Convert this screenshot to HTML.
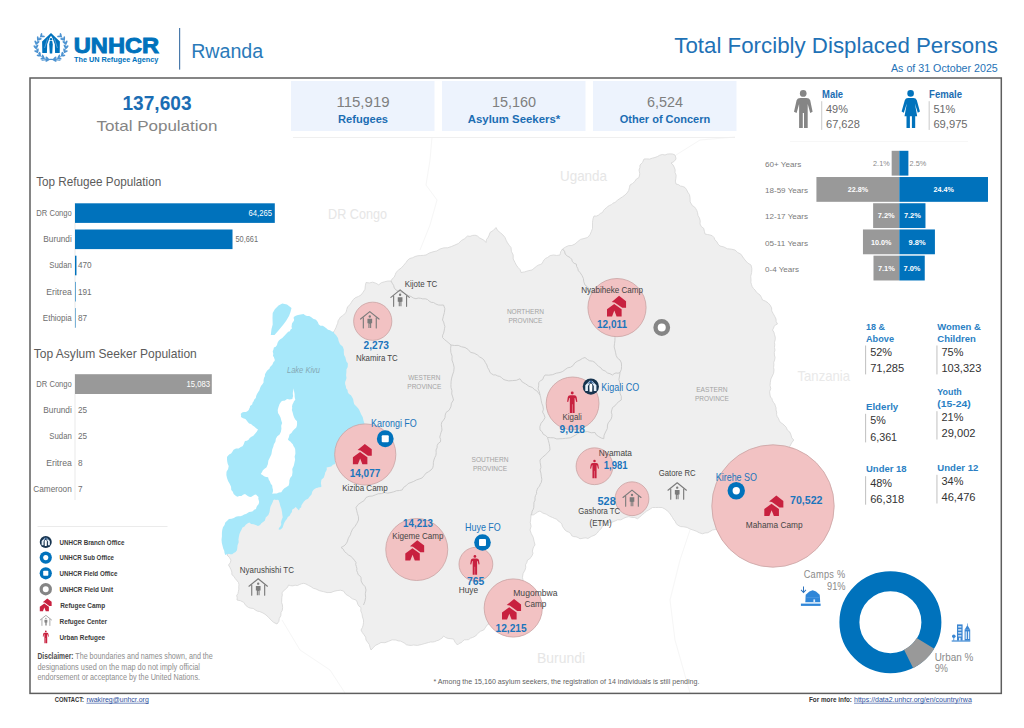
<!DOCTYPE html>
<html lang="en"><head><meta charset="utf-8"><title>UNHCR Rwanda - Total Forcibly Displaced Persons</title>
<style>html,body{margin:0;padding:0;background:#fff}body{width:1024px;height:728px;overflow:hidden}svg{display:block}text{font-family:'Liberation Sans', sans-serif}</style>
</head><body>
<svg width="1024" height="728" viewBox="0 0 1024 728">
<rect width="1024" height="728" fill="#fff"/>
<g id="map">
<g fill="none" stroke="#f6f6f6" stroke-width="1"><path d="M432,137 L430,160 L426,185 L437,200 L430,225 L420,250"/><path d="M676,155 L700,140 L735,137"/><path d="M282,620 L300,650 L330,670 L345,693"/><path d="M690,530 L680,560 L670,600 L675,640 L690,693"/></g>
<polygon points="330,340 330.62,336.52 332.43,333.48 334.45,330.63 336,327.5 336.73,325.3 337.75,323.23 338.04,320.88 339.33,318.89 340.62,316.9 342.68,315.71 344.28,314.05 346,312.5 346.72,309.57 347.66,306.7 349.99,304.71 351.54,302.07 353.24,299.55 355.58,297.61 358.38,296.48 361,295 363.09,292.24 364.96,289.33 365.3,285.89 366,282.5 369.34,282.96 372.62,282.18 375.8,283.18 378.69,284.85 381.29,282.74 384.49,281.79 387.71,281.07 391,281 392.28,278.81 394.2,277.16 395.2,274.87 396,272.5 398.53,270.0 401.36,267.86 403.75,265.24 406,262.5 407.63,260.17 409.89,258.44 412.61,257.71 415.15,256.48 417.8,255.75 420.55,255.54 423.29,255.39 426,255 429.3,253.05 432.93,251.83 436.68,250.96 440,249 443.77,247.88 447.71,247.78 451.41,246.53 455,245 458.59,243.41 461.31,240.58 464.68,238.66 467.5,236 470.07,236.35 472.5,235.45 475.05,235.23 477.5,236 479.49,237.83 481.89,239.07 484.26,240.41 486,242.5 486.38,239.76 487.97,237.49 489.2,235.08 490,232.5 493.34,230.41 496,227.5 497.65,230.51 500.31,232.67 502.89,234.86 505,237.5 506.11,240.21 507.49,242.8 509.15,245.22 511,247.5 511.43,251.42 513.17,254.95 513.21,258.94 515,262.5 516.32,265.11 518.07,267.46 520.11,269.65 521,272.5 524.7,271.89 528.26,270.73 532.04,269.98 535,267.5 536.59,266.22 538.32,265.13 540.27,264.51 542.09,263.55 543.03,261.68 544.04,259.85 545.57,258.38 547.5,257.5 550.21,255.57 553.5,255.01 556.75,255.46 560,255 560.67,251.76 562.5,249 565.37,247.17 568.42,245.68 571.87,245.48 575,244 577.71,241.62 580.54,239.39 584.04,238.53 587.5,237.5 589.85,234.94 591.25,231.75 592.51,228.49 592.5,225 592.51,222.7 592.73,220.41 593.2,218.16 594,216 596.41,216.1 598.6,215.1 600.31,213.45 602.5,212.5 603.4,210.64 604.78,209.1 606.33,207.76 607.91,206.45 609.62,205.32 611.55,204.64 613.0,203.13 615,202.5 617.29,200.36 619.84,198.54 622.48,196.86 625,195 627.06,192.98 628.68,190.59 629.36,187.8 630,185 632.52,183.48 634.73,181.53 636.4,179.02 639,177.5 639.78,173.75 639,170 639.86,167.57 640,165 642.58,162.39 644,159 646.81,158.89 649.62,159.1 652.27,158.16 655,157.5 657.45,156.53 659.74,155.22 662.34,154.51 665,155 667.42,154.06 670.0,153.88 672.6,154.0 675,155 675.67,156.96 676,159 673.97,161.58 671,163 673.0,164.82 674.23,167.23 675.16,169.79 675,172.5 676.16,175.24 675.91,178.21 675.39,181.11 676,184 678.38,184.61 680.4,186.02 682.8,186.46 685,187.5 686.62,189.8 687.9,192.3 689.46,194.69 690,197.5 690.11,199.7 690.15,201.9 691.29,203.78 692.39,205.68 694.33,206.77 695.68,208.54 696.75,210.45 697.5,212.5 698.0,215.47 699.45,218.1 700.24,221.0 700,224 701.36,226.63 703.74,228.38 704.33,231.2 705,234 707.4,234.51 709.82,234.92 712.23,235.7 714,237.5 714.94,240.01 716.94,241.79 718.07,244.18 720,246 723.82,246.93 727.3,248.77 731.19,249.12 735,250 737.64,252.48 740.87,254.13 742.89,257.1 745,260 747.64,262.94 751,265 751.87,268.7 751.66,272.5 750.72,276.2 751,280 750.89,282.32 751.51,284.55 752.22,286.76 753.61,288.63 755.26,290.22 756.41,292.21 758.19,293.62 760,295 761.44,297.41 762.5,300 765.41,301.09 768.0,302.81 770.11,305.11 771.58,307.85 771.72,310.95 773.23,313.65 774.69,316.29 776,319 776.18,321.67 777.5,324 775.59,324.8 774.24,326.37 773.5,328.25 772.5,330 773.9,332.2 774.55,334.72 775.27,337.22 775.2,339.82 774.46,342.32 774.77,344.9 774.43,347.47 775,350 774.32,352.45 774.41,354.99 775.05,357.48 774.61,360.01 773.72,362.42 773.89,364.98 773.58,367.5 774,370 773.64,373.22 772.25,376.14 770.85,379.05 770.37,382.24 770.05,385.47 770.74,388.64 769.59,391.73 770,395 770.53,397.01 771.89,398.58 772.43,400.55 773.41,402.34 774.74,403.96 775.36,405.95 776.05,407.92 776,410 776.68,412.13 776.55,414.36 777.15,416.51 778.42,418.34 779.24,420.44 780.38,422.37 782.29,423.54 784,425 786.17,427.22 787.37,430.09 789.81,432.09 791,435 791.76,437.84 793.75,440 791.64,442.85 790,446 788.13,448.76 786.07,451.38 784.82,454.54 784.83,457.93 783.53,461.0 781.39,463.56 781.11,466.87 780,470 778.25,474.24 776.89,478.61 774.72,482.68 771.61,486.08 769.55,490.21 766.1,493.28 762.33,495.99 760,500 757.66,503.27 755.62,506.73 752.6,509.5 750.95,513.26 747.67,515.74 745.72,519.36 742.86,522.18 740,525 736.68,526.39 733.09,526.05 729.67,526.77 726.21,527.27 723.22,529.37 719.58,529.76 716.02,529.33 712.5,530 710.18,531.4 707.82,532.73 705.1,532.93 702.5,533.75 699.29,532.75 696.32,531.19 693.17,530.06 690,529 687.07,527.45 683.81,526.82 680.47,526.56 677.5,525 676.06,523.24 675.12,521.17 673.6,519.49 672.5,517.5 670.93,515.1 669.35,512.72 667.23,510.79 665,509 662.1,507.55 658.85,507.41 655.68,507.55 652.5,507.5 650.53,508.78 648.58,510.08 646.49,511.19 644.67,512.69 642.89,514.22 641.16,515.81 639.35,517.3 637.5,518.75 634.79,517.53 631.82,517.42 628.92,516.68 625.99,517.29 623.32,518.48 620.73,519.83 617.73,519.75 615,521 611.79,522.33 608.31,522.4 605.76,524.77 602.5,526 601.21,528.71 598.89,530.61 597.24,533.07 595,535 591.3,536.46 587.92,538.54 585.98,537.89 583.94,538.06 580,538.75 578.1,537.59 576.03,536.77 573.77,536.65 571.71,535.72 570.74,533.62 568.92,532.19 566.8,531.38 565,530 563.69,528.14 562.41,526.27 561.82,524.0 560.22,522.28 558.23,521.05 556.77,519.22 554.6,518.44 552.5,517.5 549.25,516.11 546.28,514.2 542.89,513.1 540,511 537.71,511.96 535.69,513.42 533.54,514.8 531,515 530.76,518.76 530.29,522.49 531.09,526.28 530,530 531.35,533.74 533.16,537.28 534.06,541.15 535,545 533.67,546.8 532.92,548.92 532.39,551.14 532.95,553.35 532.17,555.42 530.91,557.24 529.54,559.03 527.5,560 526.8,562.53 525.52,564.82 525.76,567.46 525,570 523.11,573.46 522.44,577.35 523.26,581.18 523.11,585.1 522.17,588.94 522.91,592.83 521.32,596.36 520,600 516.77,605.3 511.55,608.66 505.71,610.33 500.31,613.11 497.31,618.38 492.36,621.88 487.13,624.96 483.75,630 480.54,631.22 477.86,633.36 475.63,636.01 472.5,637.5 470.39,638.19 468.67,639.6 466.49,639.78 464.31,639.86 462.68,641.24 461.12,642.71 459.06,643.45 457.5,645 455.14,642.24 453.5,639 450.86,638.69 448.21,638.46 445.69,637.55 443.5,636 442.35,637.85 440.5,638.99 438.72,640.18 436.66,640.77 434.72,641.6 432.66,642.03 430.55,641.98 428.5,642.5 424.82,643.53 421.14,644.57 417.36,645.42 413.5,645 411.16,645.41 408.8,645.22 406.42,644.75 404.55,643.2 402.54,642.09 400.47,641.08 398.15,640.9 396,640 392.11,639.83 388.52,641.35 384.88,642.69 381,642.5 378.24,644.06 375.38,645.42 373.2,647.72 371,650 370.03,647.33 369.37,644.57 367.69,642.28 366,640 365.65,637.13 363.99,634.76 362.3,632.5 361,630 362.31,627.72 363.11,625.22 363.49,622.62 363.5,620 362.47,616.97 361.94,613.81 360.74,610.76 361,607.5 359.03,606.22 357.78,604.23 357.15,602.0 356,600 352.27,598.74 349.18,596.29 345.77,594.26 343.5,591 340.34,590.21 337.12,590.64 333.98,591.3 331,592.5 327.09,592.57 323.3,591.6 319.51,590.69 316,589 313.26,588.25 310.95,586.61 308.44,585.37 306,584 303.77,583.32 301.47,583.75 299.37,584.61 297.31,585.58 295.05,585.19 292.87,585.88 290.64,585.66 288.5,585 287.53,587.38 285.53,588.99 283.87,590.85 282,592.5 282.29,595.01 281.81,597.5 281.71,600.0 281.63,602.51 282.43,604.99 282.6,607.59 282.32,610.22 281,612.5 280.85,615.63 279.3,618.35 278.85,621.46 277,624 273.75,622.44 271.04,620.06 268.63,617.42 266,615 264.06,613.58 261.91,612.49 259.69,611.55 257.31,611.12 255.21,609.9 253.26,608.44 250.84,608.19 248.5,607.5 245.63,605.34 243.7,602.3 240.48,600.76 237,600 237.23,597.72 236.67,595.49 237.96,593.58 238.4,591.31 238.84,589.13 238.74,586.91 238.98,584.69 238.5,582.5 236.87,580.52 235.23,578.55 233.88,576.33 231.86,574.69 231.84,572.06 230.95,569.58 229.83,567.24 228.5,565 230.26,562.76 231,560 229.24,557.31 227,555 229.25,552.7 231,550 231.25,547.11 232.8,544.65 233.96,542.02 236,540 236.3,537.88 235.87,535.78 236.7,533.84 237.42,531.86 238.32,529.99 238.97,528.02 239.67,526.06 240,524 242.1,521.84 244.98,520.97 247.72,519.87 250,518 253.0,518.39 256.0,518.77 259.01,518.44 262,518 262.59,514.8 264.5,512.17 265.63,509.18 266,506 267.68,503.06 270.45,501.11 273.0,498.97 276,497.5 278.91,495.25 281.18,492.36 284.84,491.48 287.66,489.0 289.82,486.1 292.31,483.49 294.63,480.72 297,478 298.88,473.53 300.21,468.86 300.87,464.05 300.81,459.19 298.92,454.56 298.8,449.57 299.29,444.64 301,440 303.0,436.31 304.73,432.49 306.48,428.53 309.9,425.89 309.75,421.58 310.63,417.36 313.14,413.88 315,410 317.1,407.63 319.67,405.76 321.61,403.27 323.5,400.75 325.03,398.01 326.65,395.32 327.8,392.33 330,390 331.14,386.17 330.36,382.26 332.54,378.94 333.07,375.0 331.28,371.48 329.65,367.89 330.48,363.97 330,360 330.24,357.42 331.08,354.97 331.38,352.38 332.43,350.0 332.0,347.36 332.37,344.72 331.28,342.31" fill="#efefef" stroke="#d6d6d6" stroke-width="0.8" stroke-linejoin="round"/>
<polygon points="293.8,317 295.74,315.67 298,315 299.36,314.68 300.76,314.57 302.15,314.37 303.5,314 305.17,315.13 307,316 309.13,315.98 311,317 313.24,318.84 316.01,319.66 317.76,321.93 318.8,324.6 320.57,325.74 322.67,325.73 324.36,326.84 326,328 326.99,328.81 327.96,329.64 329.15,330.12 330.4,330.4 331.97,331.39 333.68,332.11 334.52,333.81 336,335 336.98,336.51 338,338 338.71,341.22 340.06,344.22 342.63,346.42 343.8,349.6 343.8,352.29 344.09,354.97 345.34,357.37 346,360 346.56,361.83 347.83,363.26 347.8,365.13 347.7,367 346.42,369.56 346.38,372.42 346.08,375.22 346.5,378 345.94,380.0 345.14,381.91 345.1,384.01 345.8,386 346.15,388.2 347.53,389.95 347.8,392.14 349,394 350.93,395.26 352.16,397.21 353.19,399.24 353.5,401.5 353.86,402.79 354.12,404.1 354.99,405.12 356,406 357.16,407.31 358.34,408.61 359.28,410.1 360,411.7 361.24,414.6 362.77,417.35 363.48,420.42 364.5,423.4 364.29,425.14 364.45,426.88 364.82,428.64 366,430 360.35,431.48 356.4,435.79 352.73,440.07 350,445 346.56,448.34 344.81,452.81 340.18,454.32 337,458 336.13,459.36 335.37,460.78 335.08,462.38 335.2,464 332.95,464.85 331.2,466.5 328.88,466.9 326.6,467.5 326.85,469.31 326.19,471.01 325.2,472.52 324.9,474.3 323.85,477.5 321.42,479.85 320.87,483.13 321.5,486.4 320.32,487.14 318.94,487.34 317.66,487.83 316.3,488 313.83,489.44 312.2,491.8 311.52,494.62 309.5,496.7 308.09,498.78 305.82,499.86 303.97,501.47 302.6,503.5 301.46,505.15 301.15,507.13 299.6,508.45 299,510.4 297.36,508.69 295.7,507 294.07,508.52 292.13,509.64 291.89,511.91 290.6,513.8 289.66,515.84 287.79,517.09 286.92,519.11 285.4,520.7 284.27,522.85 283.44,525.12 282.65,527.46 281,529.3 279.75,529.64 278.5,529.3 279.33,527.6 280.51,526.13 281.27,524.33 281,522.4 281.68,519.8 282.74,517.32 282.31,514.67 282,512 281.42,508.92 280.32,505.98 279.58,502.94 278.5,500 277.23,499.86 275.95,499.91 274.66,499.62 273.4,500 272.63,502.21 271.68,504.34 270.55,506.41 270,508.7 269.55,512.0 268.34,515.11 265.77,517.4 264.8,520.7 263.05,521.93 261.37,523.26 260.07,525.07 258,525.9 255.82,525.03 253.56,524.37 251.15,524.0 249.3,522.4 247.42,523.44 245.72,524.76 244.48,526.6 242.5,527.6 241.5,529.71 240.42,531.77 239.47,533.91 239,536.2 238.46,539.22 238.68,542.28 237.57,545.14 237.3,548.2 236.95,550.29 235.61,551.93 233.79,552.88 232.2,554.2 230.38,554.19 228.64,553.64 226.99,554.36 225.3,555 224.54,552.9 224.24,550.68 223.3,548.65 222.7,546.5 221.84,543.12 221.52,539.64 221.91,536.18 221.9,532.7 222.24,529.99 222.98,527.35 224.54,525.06 225.3,522.4 227.21,520.77 228.98,518.98 231.51,518.84 233.9,518 235.84,516.81 238.06,516.31 240.34,516.36 242.5,515.6 244.12,514.53 246,514 247.54,512.94 249.15,512.01 251.02,511.87 252.8,511.3 254.13,509.77 256,509 256.43,507.36 257.18,505.84 258.37,504.6 259,503 259.14,501.47 258.64,500.01 258.27,498.52 258.5,497 257.13,495.87 256,494.5 254.58,494.71 253.39,495.52 252.22,496.3 251,497 249.26,496.86 247.75,495.99 246.39,494.97 245,494 243.01,494.7 241.4,496.06 239.29,495.96 237.3,496.7 235.3,495.55 233.66,493.92 232.84,491.74 231.3,490 231.05,486.76 229.66,483.82 228.06,481.03 227,478 226.37,474.93 226.52,471.81 228.12,469.1 228.7,466 227.76,463.88 227.23,461.62 227.0,459.32 227,457 228.17,455.62 229.48,454.37 231.14,453.53 232.2,452 233.59,449.74 235.98,448.61 238.6,448.45 240.8,447 242.56,446.15 243.58,444.48 244.22,442.71 245,441 246.92,440.86 248.54,439.81 249.54,438.2 251,437 253.35,435.79 255.05,433.77 256.73,431.78 258,429.5 256.09,428.32 254.53,426.71 252.64,425.52 251,424 249.13,423.4 247.79,421.96 246.67,420.42 245.4,419 243.07,418.28 241,417 241.13,415.47 240.7,414 242.08,412.55 244,412 245.97,411.95 247.7,411 248.72,410.0 249.14,408.63 249.88,407.42 250,406 251.19,405.14 252.29,404.17 252.51,402.66 253.5,401.5 254.31,399.53 255.8,398.01 256.16,395.93 257,394 258.22,392.12 259.39,390.2 260.09,388.06 261,386 262.4,384.29 263.55,382.4 263.57,380.18 264,378 264.9,376.2 264.97,374.18 265.96,372.48 267,370.8 268.11,369.66 269.41,368.74 269.96,367.23 271,366 272.16,364.95 272.85,363.54 273.47,362.1 274.6,361 274.75,359.63 274.24,358.36 273.84,357.07 273,356 273.29,353.72 272.7,351.5 273.45,349.6 273.89,347.61 275.73,346.64 277,345 277.56,342.77 278.7,340.78 280.31,339.14 282.3,338 283.44,336.71 284.69,335.54 285.82,334.25 287,333 288.16,331.65 289.87,331.16 290.58,329.55 292,328.5 291.51,326.85 291.77,325.14 291.98,323.41 293,322 293.81,320.92 294.11,319.61 293.63,318.34" fill="#a7e8fa"/>
<polygon points="282.3,303.5 287,304.5 291.5,308 290.5,312 289,316 286,321 283,325 278,331 274.5,335 270.8,335 271.5,329 272.7,324.6 272.5,318 272.7,313 275,309 278.5,305.4" fill="#a7e8fa"/>
<polygon points="293.7,388.2 294.01,391.12 294.6,394 294.67,396.93 295.3,399.8 294.0,401.17 293.26,402.91 292.46,404.59 292,406.4 292.24,408.1 291.84,409.77 292.34,411.38 292.8,413 293.35,415.28 294.17,417.47 295.29,419.56 297,421.2 297.05,422.88 297.06,424.57 296.74,426.23 296.1,427.8 294.37,429.37 292.74,431.04 291.45,433.04 289.5,434.4 288.98,436.99 287.9,439.4 289.05,440.74 290.57,441.63 291.54,443.08 292.8,444.3 293.46,445.97 294.5,447.43 295.15,449.11 295.3,450.9 295.4,453.84 294.63,456.68 295.14,459.6 294.5,462.5 293.76,465.83 292.27,468.91 292.52,472.32 292,475.7 290.35,477.82 289.39,480.33 289.27,482.99 288.7,485.6 286.52,486.88 284.39,488.22 282.7,490.1 281.3,492.2 278.95,492.48 276.84,493.54 274.51,493.49 272.2,493.8 272.91,491.81 272.97,489.7 272.42,487.68 272.2,485.6 270.79,483.73 269.92,481.56 268.71,479.56 268.1,477.3 266.06,476.95 264.11,476.29 262.45,475.07 260.7,474 261.93,472.14 262.89,470.13 264.56,468.65 266.4,467.4 267.83,464.13 268.4,460.61 269.88,457.39 271.4,454.2 271.83,451.68 272.29,449.16 273.29,446.8 273.9,444.3 275.4,441.76 275.87,438.84 277.31,436.26 279.6,434.4 280.9,431.71 281.42,428.77 281.19,425.77 282.1,422.9 281.22,420.34 280.62,417.71 279.38,415.31 278,413 277.7,409.89 278.51,406.88 279.56,403.96 281.3,401.4 282.79,400.87 284.37,400.72 285.77,399.99 287,399 289.7,399.46 292.4,399 292.67,397.5 293.13,396.04 292.88,394.53 292.8,393 293.27,390.6" fill="#fff"/>
<polyline points="391,281 392.24,283.26 393.61,285.44 394.3,287.98 396,290 398.47,291.17 401.03,292.12 403.73,292.75 406.08,294.2 408.48,295.52 411.03,296.51 413.34,298.01 416,298.75 418.24,298.04 420.58,298.3 422.83,298.91 425.15,298.78 427.42,299.44 429.14,301.06 431.14,302.33 433.5,302.5 435.75,303.92 438.2,304.96 440.85,305.14 443.5,305 444.88,308.69 444.34,312.59 443.37,316.28 442.5,320 443.63,321.99 444.2,324.21 444.9,326.44 444.5,328.75 444.11,330.96 443.58,333.14 442.65,335.22 442.5,337.5 444.47,339.55 446.71,341.29 448.86,343.14 451,345" fill="none" stroke="#c9c9c9" stroke-width="0.9" stroke-linejoin="round"/>
<polyline points="451,345 450.6,348.76 450.86,352.53 452.1,356.16 451.95,359.99 453.28,363.64 454.13,367.43 453.76,371.31 452.5,375 451.65,378.07 451.12,381.21 450.95,384.39 450.98,387.58 451.93,390.67 451.72,393.9 452.71,396.92 453.5,400 451.45,403.18 450.85,406.91 449.07,410.26 446,412.5 445.23,415.08 444.98,417.76 443.59,420.06 441.84,422.09 441.29,424.69 441.68,427.32 441.99,430.0 441,432.5 440.36,434.8 439.74,437.11 440.62,439.38 440.5,441.82 438.45,443.2 437.21,445.34 437.07,447.79 436,450 436.21,452.63 435.91,455.25 434.75,457.61 433.9,460.1 433.34,462.67 433.32,465.3 432.71,467.92 431,470 428.52,471.76 425.88,473.25 424.07,475.69 422.07,477.96 419.26,478.99 416.42,479.95 413.79,481.39 411,482.5 408.2,483.51 406.17,485.7 403.67,487.33 402.22,489.94 399.39,490.55 396.5,490.74 393.81,491.82 391,492.5 387.79,493.17 384.57,492.55 381.49,493.59 378.25,493.76 375.25,494.9 372.26,496.07 369.01,496.28 366,497.5 364.11,500.61 361.0,502.5 358.08,504.58 356,507.5 356.71,510.61 357.48,513.7 358.45,516.78 358.5,520 356.93,523.3 354.99,526.39 352.56,529.16 351,532.5 350.43,534.76 349.16,536.72 348.14,538.79 347.55,541.03 346.53,543.19 345.05,545.05 343.12,546.44 341,547.5 343.21,549.1 344.48,551.52 346.53,553.22 348.5,555 350.84,556.35 352.82,558.18 354.44,560.32 356,562.5 355.71,564.57 356.39,566.55 356.9,568.55 356.71,570.6 357.54,572.51 358.09,574.52 359.79,575.77 361,577.5 361.14,580.97 362.69,584.07 365.11,586.61 366,590 365.29,593.8 365.65,597.65 364.88,601.41 363.5,605" fill="none" stroke="#c9c9c9" stroke-width="0.9" stroke-linejoin="round"/>
<polyline points="451,345 454.56,345.53 458.16,345.37 461.48,346.76 465,347.5 468.18,349.49 470.57,352.39 474.22,353.21 477.5,355 479.54,356.89 481.97,358.24 484.08,360.09 485.36,362.6 486.85,364.93 487.6,367.59 489.06,369.92 490,372.5 491.69,373.8 493.51,374.91 495.71,374.92 497.63,375.98 499.74,376.41 501.55,377.56 503.04,379.11 505,380 508.75,380.89 512.6,380.58 516.46,380.29 520,378.75 522.24,382.0 525.69,383.92 528.82,386.23 532.5,387.5 534.31,389.52 536.72,390.78 538.37,392.88 540,395" fill="none" stroke="#c9c9c9" stroke-width="0.9" stroke-linejoin="round"/>
<polyline points="540,395 539.37,391.84 538.1,388.88 538.68,385.72 538.75,382.5 540.56,380.75 542.73,379.47 543.58,377.09 545,375 548.84,375.15 552.65,374.66 556.21,373.2 560,372.5 562.79,371.41 565.16,369.57 567.65,367.85 570.6,367.21 573.14,365.51 574.78,362.93 577.28,361.27 580,360 582.34,358.44 585,357.5 587.19,359.3 589.6,360.79 592.46,361.15 595,362.5 596.66,364.58 598.65,366.35 600.89,367.84 602.5,370 605.18,370.97 607.3,372.89 609.99,373.72 612.5,375 614.08,373.7 615.98,372.94 618.04,373.22 620,372.5 619.57,376.03 618.91,379.53 619.92,382.94 621.31,386.22 620.3,389.59 619.95,393.1 621.3,396.42 621.25,400 618.85,401.62 616.7,403.55 614.93,405.87 612.5,407.5 611.87,409.79 611.27,412.08 611.93,414.38 611.84,416.78 611.11,419.01 609.77,420.94 608.32,422.79 607.5,425 607.27,428.63 605.62,431.87 604.12,435.16 603.75,438.75 601.11,437.94 598.71,436.56 596.36,434.99 595,432.5 591.16,432.78 587.5,431.56 583.74,431.98 580,432.5 577.55,433.61 575.36,435.17 572.99,436.41 570.66,437.74 568.0,438.08 565.34,438.37 562.68,438.65 560,438.75 556.79,438.94 553.78,437.81 550.64,437.7 547.5,437.5 545.68,435.48 543.24,434.26 542.11,431.76 540,430 539.91,426.49 541.09,423.19 543.35,420.55 545,417.5 544.06,414.66 542.54,412.09 543.41,409.17 542.92,406.16 541.86,403.47 541.24,400.64 540.72,397.8 540,395" fill="none" stroke="#c9c9c9" stroke-width="0.9" stroke-linejoin="round"/>
<polyline points="562.5,249 564.52,251.23 565.22,254.16 567.41,256.12 570,257.5 571.68,259.26 572.33,261.61 574.08,263.25 576.33,264.11 576.64,266.43 577.77,268.48 578.36,270.78 580,272.5 581.92,275.31 583.35,278.41 583.82,281.79 585,285 586.9,286.31 588.36,288.1 589.25,290.25 590.86,291.93 591.16,294.25 592.14,296.37 593.83,297.98 595,300 596.87,304.05 597.55,308.46 598.97,312.64 600.19,316.88 603.97,319.36 606.37,323.19 609.07,326.69 612,330 612.82,331.85 613.77,333.64 613.95,335.71 615,337.5 614.92,340.64 614.53,343.75 614.17,346.92 615,350 615.62,352.82 616.21,355.64 617.6,358.26 620,360 621.36,362.98 621.56,366.25 621.31,369.51 620,372.5" fill="none" stroke="#c9c9c9" stroke-width="0.9" stroke-linejoin="round"/>
<polyline points="547.5,437.5 548.38,440.57 549.2,443.66 549.74,446.81 550,450 547.69,452.68 545.14,455.14 542.37,457.36 540,460 540.14,462.52 540.63,465.0 540.95,467.58 540,470 540.9,473.04 541.27,476.19 541.85,479.35 541.25,482.5 540.13,484.25 539.57,486.25 537.98,487.64 537.18,489.6 536.47,491.59 536.6,493.69 535.5,495.47 535,497.5 535.08,500.11 533.94,502.45 533.9,504.98 533.75,507.5 533.13,509.42 532.13,511.16 531.84,513.16 531,515" fill="none" stroke="#c9c9c9" stroke-width="0.9" stroke-linejoin="round"/>
<text x="328" y="219" font-size="14.5" fill="#e6e6e6" textLength="59" lengthAdjust="spacingAndGlyphs">DR Congo</text>
<text x="560" y="181" font-size="14.5" fill="#e6e6e6" textLength="47" lengthAdjust="spacingAndGlyphs">Uganda</text>
<text x="797.5" y="381" font-size="14.5" fill="#e9e9e9" textLength="52.5" lengthAdjust="spacingAndGlyphs">Tanzania</text>
<text x="537" y="663" font-size="14.5" fill="#e6e6e6" textLength="48" lengthAdjust="spacingAndGlyphs">Burundi</text>
<text x="424.3" y="379.6" font-size="8" fill="#a3a3a3" text-anchor="middle" textLength="32" lengthAdjust="spacingAndGlyphs">WESTERN</text>
<text x="424.3" y="389.0" font-size="8" fill="#a3a3a3" text-anchor="middle" textLength="34" lengthAdjust="spacingAndGlyphs">PROVINCE</text>
<text x="525.4" y="314" font-size="8" fill="#a3a3a3" text-anchor="middle" textLength="37" lengthAdjust="spacingAndGlyphs">NORTHERN</text>
<text x="525.4" y="323.4" font-size="8" fill="#a3a3a3" text-anchor="middle" textLength="34" lengthAdjust="spacingAndGlyphs">PROVINCE</text>
<text x="490" y="461.6" font-size="8" fill="#a3a3a3" text-anchor="middle" textLength="37" lengthAdjust="spacingAndGlyphs">SOUTHERN</text>
<text x="490" y="471.0" font-size="8" fill="#a3a3a3" text-anchor="middle" textLength="34" lengthAdjust="spacingAndGlyphs">PROVINCE</text>
<text x="711.9" y="391.6" font-size="8" fill="#a3a3a3" text-anchor="middle" textLength="31.5" lengthAdjust="spacingAndGlyphs">EASTERN</text>
<text x="711.9" y="401.0" font-size="8" fill="#a3a3a3" text-anchor="middle" textLength="34" lengthAdjust="spacingAndGlyphs">PROVINCE</text>
<text x="287" y="373.3" font-size="8.2" fill="#85a9b5" textLength="33" lengthAdjust="spacingAndGlyphs" font-style="italic">Lake Kivu</text>
<circle cx="372.75" cy="321.25" r="19.1" fill="#f2c2c3" stroke="#c9a3a3" stroke-width="0.8"/>
<circle cx="617" cy="307.6" r="29.1" fill="#f2c2c3" stroke="#c9a3a3" stroke-width="0.8"/>
<circle cx="572.6" cy="403.4" r="26.4" fill="#f2c2c3" stroke="#c9a3a3" stroke-width="0.8"/>
<circle cx="365.25" cy="454.5" r="30.6" fill="#f2c2c3" stroke="#c9a3a3" stroke-width="0.8"/>
<circle cx="594.5" cy="466.25" r="18.4" fill="#f2c2c3" stroke="#c9a3a3" stroke-width="0.8"/>
<circle cx="632" cy="498.75" r="16.9" fill="#f2c2c3" stroke="#c9a3a3" stroke-width="0.8"/>
<circle cx="773" cy="506" r="61.2" fill="#f2c2c3" stroke="#c9a3a3" stroke-width="0.8"/>
<circle cx="416.75" cy="549.5" r="31" fill="#f2c2c3" stroke="#c9a3a3" stroke-width="0.8"/>
<circle cx="475.9" cy="564.2" r="16.9" fill="#f2c2c3" stroke="#c9a3a3" stroke-width="0.8"/>
<circle cx="513.25" cy="608" r="29.1" fill="#f2c2c3" stroke="#c9a3a3" stroke-width="0.8"/>
<g transform="translate(390.3,289.3) scale(0.98)" fill="none" stroke="#7b7b7b" stroke-width="1.15" stroke-linecap="round" stroke-linejoin="round"><path d="M0.6,8.2 L10,0.6 L19.4,8.2"/><path d="M3.4,7 L3.4,17.4 M16.6,7 L16.6,17.4"/><circle cx="10" cy="5.6" r="1.2" fill="#7b7b7b" stroke="none"/><path d="M7.6,8 L12.4,8 L12.4,12.6 L11.4,12.6 L11.4,17.4 L10.3,17.4 L10.3,13 L9.7,13 L9.7,17.4 L8.6,17.4 L8.6,12.6 L7.6,12.6 Z" fill="#7b7b7b" stroke="none"/></g>
<text x="404.75" y="287.4" font-size="9" fill="#454545" textLength="32.5" lengthAdjust="spacingAndGlyphs">Kijote TC</text>
<g transform="translate(360,311) scale(0.98)" fill="none" stroke="#7b7b7b" stroke-width="1.15" stroke-linecap="round" stroke-linejoin="round"><path d="M0.6,8.2 L10,0.6 L19.4,8.2"/><path d="M3.4,7 L3.4,17.4 M16.6,7 L16.6,17.4"/><circle cx="10" cy="5.6" r="1.2" fill="#7b7b7b" stroke="none"/><path d="M7.6,8 L12.4,8 L12.4,12.6 L11.4,12.6 L11.4,17.4 L10.3,17.4 L10.3,13 L9.7,13 L9.7,17.4 L8.6,17.4 L8.6,12.6 L7.6,12.6 Z" fill="#7b7b7b" stroke="none"/></g>
<text x="363.5" y="348.9" font-size="10.9" fill="#1b75bc" font-weight="bold" textLength="25.5" lengthAdjust="spacingAndGlyphs">2,273</text>
<text x="356" y="360.6" font-size="9" fill="#454545" textLength="41.8" lengthAdjust="spacingAndGlyphs">Nkamira TC</text>
<text x="581.2" y="292.6" font-size="9" fill="#454545" textLength="61.8" lengthAdjust="spacingAndGlyphs">Nyabiheke Camp</text>
<g transform="translate(607,295.8) scale(1.03)" fill="#c8213f"><path d="M11.7,0 L18.5,5.3 L18.5,11.7 L14.8,11.7 L7.4,6.4 L4.6,5.9 Z"/><path d="M0,20 L0,13 L7,7.9 L14.2,13 L14.2,20 L9.3,20 L7.1,14.2 L4.9,20 Z"/></g>
<text x="597" y="328.3" font-size="10.9" fill="#1b75bc" font-weight="bold" textLength="30" lengthAdjust="spacingAndGlyphs">12,011</text>
<circle cx="661.75" cy="327.5" r="6.216" fill="#fff" stroke="#858585" stroke-width="4.368"/>
<circle cx="590.85" cy="386.6" r="8.1" fill="#17344f"/>
<g transform="translate(590.85,386.6) scale(1.0125)"><path d="M-5.5,4.4 L-5.5,-1.4 L-0.9,-6 L-0.9,-3.6 L-2.9,-0.6 L-2.9,4.4 Z" fill="#e8f1fa"/><path d="M5.5,4.4 L5.5,-1.4 L0.9,-6 L0.9,-3.6 L2.9,-0.6 L2.9,4.4 Z" fill="#e8f1fa"/><path d="M-1.3,5.2 L-1.5,-0.6 Q-1.3,-3 0,-3 Q1.3,-3 1.5,-0.6 L1.3,5.2 Z" fill="#fff"/><path d="M-3.6,-2.6 L0,-6.2 L3.6,-2.6 L1.6,-3.2 L0,-4.6 L-1.6,-3.2 Z" fill="#3c6ca6"/></g>
<text x="601.2" y="391.3" font-size="11" fill="#1b75bc" textLength="38" lengthAdjust="spacingAndGlyphs">Kigali CO</text>
<g transform="translate(567.1,391.6) scale(1.09)" fill="#c8213f"><circle cx="4.7" cy="1.35" r="1.35"/><path d="M2.8,3.4 L6.6,3.4 Q8.5,3.4 8.8,5.2 L9.4,9.2 L8.4,9.5 L7.4,5.8 L6.9,5.8 L6.9,19.6 L4.9,19.6 L4.9,11.6 L4.5,11.6 L4.5,19.6 L2.5,19.6 L2.5,5.8 L2,5.8 L1,9.5 L0,9.2 L0.6,5.2 Q0.9,3.4 2.8,3.4 Z"/></g>
<text x="562.5" y="420.2" font-size="9" fill="#454545" textLength="19.3" lengthAdjust="spacingAndGlyphs">Kigali</text>
<text x="559.5" y="432.6" font-size="10.9" fill="#1b75bc" font-weight="bold" textLength="25.5" lengthAdjust="spacingAndGlyphs">9,018</text>
<text x="598.75" y="455.6" font-size="9" fill="#454545" textLength="33.2" lengthAdjust="spacingAndGlyphs">Nyamata</text>
<g transform="translate(590.1,459.8) scale(0.94)" fill="#c8213f"><circle cx="4.7" cy="1.35" r="1.35"/><path d="M2.8,3.4 L6.6,3.4 Q8.5,3.4 8.8,5.2 L9.4,9.2 L8.4,9.5 L7.4,5.8 L6.9,5.8 L6.9,19.6 L4.9,19.6 L4.9,11.6 L4.5,11.6 L4.5,19.6 L2.5,19.6 L2.5,5.8 L2,5.8 L1,9.5 L0,9.2 L0.6,5.2 Q0.9,3.4 2.8,3.4 Z"/></g>
<text x="603.75" y="469.1" font-size="10.9" fill="#1b75bc" font-weight="bold" textLength="23.8" lengthAdjust="spacingAndGlyphs">1,981</text>
<g transform="translate(622.4,489.6) scale(0.96)" fill="none" stroke="#7b7b7b" stroke-width="1.15" stroke-linecap="round" stroke-linejoin="round"><path d="M0.6,8.2 L10,0.6 L19.4,8.2"/><path d="M3.4,7 L3.4,17.4 M16.6,7 L16.6,17.4"/><circle cx="10" cy="5.6" r="1.2" fill="#7b7b7b" stroke="none"/><path d="M7.6,8 L12.4,8 L12.4,12.6 L11.4,12.6 L11.4,17.4 L10.3,17.4 L10.3,13 L9.7,13 L9.7,17.4 L8.6,17.4 L8.6,12.6 L7.6,12.6 Z" fill="#7b7b7b" stroke="none"/></g>
<text x="597.5" y="504.8" font-size="10.9" fill="#1b75bc" font-weight="bold" textLength="18.2" lengthAdjust="spacingAndGlyphs">528</text>
<text x="578.25" y="514.4" font-size="9" fill="#454545" textLength="41.8" lengthAdjust="spacingAndGlyphs">Gashora TC</text>
<text x="589.5" y="526.4" font-size="9" fill="#454545" textLength="22.2" lengthAdjust="spacingAndGlyphs">(ETM)</text>
<text x="658.75" y="476.4" font-size="9" fill="#454545" textLength="36.8" lengthAdjust="spacingAndGlyphs">Gatore RC</text>
<g transform="translate(667.4,482.2) scale(0.98)" fill="none" stroke="#7b7b7b" stroke-width="1.15" stroke-linecap="round" stroke-linejoin="round"><path d="M0.6,8.2 L10,0.6 L19.4,8.2"/><path d="M3.4,7 L3.4,17.4 M16.6,7 L16.6,17.4"/><circle cx="10" cy="5.6" r="1.2" fill="#7b7b7b" stroke="none"/><path d="M7.6,8 L12.4,8 L12.4,12.6 L11.4,12.6 L11.4,17.4 L10.3,17.4 L10.3,13 L9.7,13 L9.7,17.4 L8.6,17.4 L8.6,12.6 L7.6,12.6 Z" fill="#7b7b7b" stroke="none"/></g>
<text x="715.75" y="480.5" font-size="11" fill="#1b75bc" textLength="41.2" lengthAdjust="spacingAndGlyphs">Kirehe SO</text>
<circle cx="736.25" cy="490.75" r="8.7" fill="#0072bc"/>
<circle cx="736.25" cy="490.75" r="3.6539999999999995" fill="#fff"/>
<g transform="translate(764.3,495.5) scale(1.03)" fill="#c8213f"><path d="M11.7,0 L18.5,5.3 L18.5,11.7 L14.8,11.7 L7.4,6.4 L4.6,5.9 Z"/><path d="M0,20 L0,13 L7,7.9 L14.2,13 L14.2,20 L9.3,20 L7.1,14.2 L4.9,20 Z"/></g>
<text x="790" y="503.6" font-size="10.9" fill="#1b75bc" font-weight="bold" textLength="32.5" lengthAdjust="spacingAndGlyphs">70,522</text>
<text x="745.75" y="528.2" font-size="9" fill="#454545" textLength="56.8" lengthAdjust="spacingAndGlyphs">Mahama Camp</text>
<text x="371" y="427.2" font-size="11" fill="#1b75bc" textLength="45.8" lengthAdjust="spacingAndGlyphs">Karongi FO</text>
<g transform="translate(352.9,443.9) scale(1.02)" fill="#c8213f"><path d="M11.7,0 L18.5,5.3 L18.5,11.7 L14.8,11.7 L7.4,6.4 L4.6,5.9 Z"/><path d="M0,20 L0,13 L7,7.9 L14.2,13 L14.2,20 L9.3,20 L7.1,14.2 L4.9,20 Z"/></g>
<circle cx="385.25" cy="438.75" r="8.4" fill="#0072bc"/>
<rect x="381.722" y="435.222" width="7.056" height="7.056" rx="1.0584" fill="#fff"/>
<text x="349.75" y="476.9" font-size="10.9" fill="#1b75bc" font-weight="bold" textLength="30.5" lengthAdjust="spacingAndGlyphs">14,077</text>
<text x="342.25" y="490.6" font-size="9" fill="#454545" textLength="45.5" lengthAdjust="spacingAndGlyphs">Kiziba Camp</text>
<text x="403" y="526.6" font-size="10.9" fill="#1b75bc" font-weight="bold" textLength="30" lengthAdjust="spacingAndGlyphs">14,213</text>
<text x="392.25" y="538.9" font-size="9" fill="#454545" textLength="51.2" lengthAdjust="spacingAndGlyphs">Kigeme Camp</text>
<g transform="translate(405.3,540.2) scale(1.02)" fill="#c8213f"><path d="M11.7,0 L18.5,5.3 L18.5,11.7 L14.8,11.7 L7.4,6.4 L4.6,5.9 Z"/><path d="M0,20 L0,13 L7,7.9 L14.2,13 L14.2,20 L9.3,20 L7.1,14.2 L4.9,20 Z"/></g>
<text x="465" y="530.8" font-size="11" fill="#1b75bc" textLength="35.8" lengthAdjust="spacingAndGlyphs">Huye FO</text>
<circle cx="482.5" cy="542.5" r="8.3" fill="#0072bc"/>
<rect x="479.014" y="539.014" width="6.972" height="6.972" rx="1.0458" fill="#fff"/>
<g transform="translate(470.2,555.1) scale(1.0)" fill="#c8213f"><circle cx="4.7" cy="1.35" r="1.35"/><path d="M2.8,3.4 L6.6,3.4 Q8.5,3.4 8.8,5.2 L9.4,9.2 L8.4,9.5 L7.4,5.8 L6.9,5.8 L6.9,19.6 L4.9,19.6 L4.9,11.6 L4.5,11.6 L4.5,19.6 L2.5,19.6 L2.5,5.8 L2,5.8 L1,9.5 L0,9.2 L0.6,5.2 Q0.9,3.4 2.8,3.4 Z"/></g>
<text x="467" y="585.3" font-size="10.9" fill="#1b75bc" font-weight="bold" textLength="17.3" lengthAdjust="spacingAndGlyphs">765</text>
<text x="458.75" y="593.1" font-size="9" fill="#454545" textLength="19.3" lengthAdjust="spacingAndGlyphs">Huye</text>
<text x="513.25" y="596.4" font-size="9" fill="#454545" textLength="44.2" lengthAdjust="spacingAndGlyphs">Mugombwa</text>
<text x="524.5" y="607.4" font-size="9" fill="#454545" textLength="21.8" lengthAdjust="spacingAndGlyphs">Camp</text>
<g transform="translate(502,599) scale(1.03)" fill="#c8213f"><path d="M11.7,0 L18.5,5.3 L18.5,11.7 L14.8,11.7 L7.4,6.4 L4.6,5.9 Z"/><path d="M0,20 L0,13 L7,7.9 L14.2,13 L14.2,20 L9.3,20 L7.1,14.2 L4.9,20 Z"/></g>
<text x="495.5" y="631.6" font-size="10.9" fill="#1b75bc" font-weight="bold" textLength="31.2" lengthAdjust="spacingAndGlyphs">12,215</text>
<text x="239.75" y="572.7" font-size="9" fill="#454545" textLength="54.2" lengthAdjust="spacingAndGlyphs">Nyarushishi TC</text>
<g transform="translate(248.4,578.2) scale(0.98)" fill="none" stroke="#7b7b7b" stroke-width="1.15" stroke-linecap="round" stroke-linejoin="round"><path d="M0.6,8.2 L10,0.6 L19.4,8.2"/><path d="M3.4,7 L3.4,17.4 M16.6,7 L16.6,17.4"/><circle cx="10" cy="5.6" r="1.2" fill="#7b7b7b" stroke="none"/><path d="M7.6,8 L12.4,8 L12.4,12.6 L11.4,12.6 L11.4,17.4 L10.3,17.4 L10.3,13 L9.7,13 L9.7,17.4 L8.6,17.4 L8.6,12.6 L7.6,12.6 Z" fill="#7b7b7b" stroke="none"/></g>
</g>
<g id="header">
<polyline points="40.96,36.44 37.97,39.76 36.30,43.74 36.11,48.00 37.42,52.09 40.11,55.61 43.89,58.20 48.40,59.60" fill="none" stroke="#4d93d1" stroke-width="0.7"/><polyline points="61.04,36.44 64.03,39.76 65.70,43.74 65.89,48.00 64.58,52.09 61.89,55.61 58.11,58.20 53.60,59.60" fill="none" stroke="#4d93d1" stroke-width="0.7"/>
<g fill="#4d93d1"><ellipse cx="42.46" cy="36.42" rx="2.5" ry="0.95" transform="rotate(-0.8 42.46 36.42)"/><ellipse cx="41.31" cy="34.98" rx="2.0" ry="0.95" transform="rotate(-76.8 41.31 34.98)"/><ellipse cx="39.39" cy="39.26" rx="2.5" ry="0.95" transform="rotate(-19.4 39.39 39.26)"/><ellipse cx="37.83" cy="38.26" rx="2.0" ry="0.95" transform="rotate(-95.4 37.83 38.26)"/><ellipse cx="37.46" cy="42.80" rx="2.5" ry="0.95" transform="rotate(-39.2 37.46 42.80)"/><ellipse cx="35.66" cy="42.39" rx="2.0" ry="0.95" transform="rotate(-115.2 35.66 42.39)"/><ellipse cx="36.86" cy="46.71" rx="2.5" ry="0.95" transform="rotate(-59.7 36.86 46.71)"/><ellipse cx="35.03" cy="46.95" rx="2.0" ry="0.95" transform="rotate(-135.7 35.03 46.95)"/><ellipse cx="37.69" cy="50.62" rx="2.5" ry="0.95" transform="rotate(-79.7 37.69 50.62)"/><ellipse cx="36.05" cy="51.48" rx="2.0" ry="0.95" transform="rotate(-155.7 36.05 51.48)"/><ellipse cx="39.88" cy="54.13" rx="2.5" ry="0.95" transform="rotate(-98.7 39.88 54.13)"/><ellipse cx="38.61" cy="55.47" rx="2.0" ry="0.95" transform="rotate(-174.7 38.61 55.47)"/><ellipse cx="43.23" cy="56.86" rx="2.5" ry="0.95" transform="rotate(-116.3 43.23 56.86)"/><ellipse cx="42.43" cy="58.52" rx="2.0" ry="0.95" transform="rotate(-192.3 42.43 58.52)"/><ellipse cx="47.37" cy="58.50" rx="2.5" ry="0.95" transform="rotate(-133.0 47.37 58.50)"/><ellipse cx="47.08" cy="60.32" rx="2.0" ry="0.95" transform="rotate(-209.0 47.08 60.32)"/><ellipse cx="59.54" cy="36.42" rx="2.5" ry="0.95" transform="rotate(-179.2 59.54 36.42)"/><ellipse cx="60.69" cy="34.98" rx="2.0" ry="0.95" transform="rotate(-103.2 60.69 34.98)"/><ellipse cx="62.61" cy="39.26" rx="2.5" ry="0.95" transform="rotate(-160.6 62.61 39.26)"/><ellipse cx="64.17" cy="38.26" rx="2.0" ry="0.95" transform="rotate(-84.6 64.17 38.26)"/><ellipse cx="64.54" cy="42.80" rx="2.5" ry="0.95" transform="rotate(-140.8 64.54 42.80)"/><ellipse cx="66.34" cy="42.39" rx="2.0" ry="0.95" transform="rotate(-64.8 66.34 42.39)"/><ellipse cx="65.14" cy="46.71" rx="2.5" ry="0.95" transform="rotate(-120.3 65.14 46.71)"/><ellipse cx="66.97" cy="46.95" rx="2.0" ry="0.95" transform="rotate(-44.3 66.97 46.95)"/><ellipse cx="64.31" cy="50.62" rx="2.5" ry="0.95" transform="rotate(-100.3 64.31 50.62)"/><ellipse cx="65.95" cy="51.48" rx="2.0" ry="0.95" transform="rotate(-24.3 65.95 51.48)"/><ellipse cx="62.12" cy="54.13" rx="2.5" ry="0.95" transform="rotate(-81.3 62.12 54.13)"/><ellipse cx="63.39" cy="55.47" rx="2.0" ry="0.95" transform="rotate(-5.3 63.39 55.47)"/><ellipse cx="58.77" cy="56.86" rx="2.5" ry="0.95" transform="rotate(-63.7 58.77 56.86)"/><ellipse cx="59.57" cy="58.52" rx="2.0" ry="0.95" transform="rotate(12.3 59.57 58.52)"/><ellipse cx="54.63" cy="58.50" rx="2.5" ry="0.95" transform="rotate(-47.0 54.63 58.50)"/><ellipse cx="54.92" cy="60.32" rx="2.0" ry="0.95" transform="rotate(29.0 54.92 60.32)"/></g>
<path d="M42,60.2 Q51,58.6 60,60.2" fill="none" stroke="#4d93d1" stroke-width="1.1" stroke-linecap="round"/>
<g fill="#0072bc"><path d="M51,33 L42.1,41.4 L42.3,53 L46.9,53 L47.2,44.2 L49.5,38 L51,35.8 Z"/><path d="M51,33 L59.9,41.4 L59.7,53 L55.1,53 L54.8,44.2 L52.5,38 L51,35.8 Z"/><circle cx="51" cy="39.2" r="1.2"/><path d="M49.8,41 L52.2,41 L52.8,44.6 L52.2,53.6 L49.8,53.6 L49.2,44.6 Z"/></g>
<path d="M47.6,38.6 L44.6,48" stroke="#7fb2de" stroke-width="0.7" fill="none"/><path d="M54.4,38.6 L57.4,48" stroke="#7fb2de" stroke-width="0.7" fill="none"/>
<text x="73.8" y="53.3" font-size="21.2" fill="#0072bc" font-weight="bold" textLength="85.4" lengthAdjust="spacingAndGlyphs" stroke="#0072bc" stroke-width="0.9">UNHCR</text>
<text x="74" y="62.3" font-size="7.4" fill="#0072bc" font-weight="bold" textLength="84.4" lengthAdjust="spacingAndGlyphs">The UN Refugee Agency</text>
<rect x="179" y="28" width="1.2" height="41.6" fill="#4a7aab"/>
<text x="191.2" y="58.3" font-size="19.6" fill="#2a7ab9" textLength="72" lengthAdjust="spacingAndGlyphs">Rwanda</text>
<text x="997.8" y="52.8" font-size="22" fill="#1f72b6" text-anchor="end" textLength="323.5" lengthAdjust="spacingAndGlyphs">Total Forcibly Displaced Persons</text>
<text x="997.8" y="71.6" font-size="10.3" fill="#1f72b6" text-anchor="end" textLength="106.8" lengthAdjust="spacingAndGlyphs">As of 31 October 2025</text>
</g>
<rect x="30" y="78" width="971.3" height="615.4" fill="none" stroke="#5e5e5e" stroke-width="1.5"/>
<g id="kpi">
<text x="157" y="110.2" font-size="20.5" fill="#1b6db3" font-weight="bold" text-anchor="middle" textLength="69" lengthAdjust="spacingAndGlyphs">137,603</text>
<text x="157" y="131.3" font-size="15" fill="#858585" text-anchor="middle" textLength="121" lengthAdjust="spacingAndGlyphs">Total Population</text>
<rect x="291" y="81" width="143.5" height="50" fill="#edf3fd"/>
<rect x="442" y="81" width="143.5" height="50" fill="#edf3fd"/>
<rect x="593" y="81" width="143.5" height="50" fill="#edf3fd"/>
<rect x="293" y="137" width="442" height="1" fill="#efefef"/>
<text x="363" y="107" font-size="15" fill="#7f7f7f" text-anchor="middle" textLength="53.2" lengthAdjust="spacingAndGlyphs">115,919</text>
<text x="363" y="122.9" font-size="11.6" fill="#1b6db3" font-weight="bold" text-anchor="middle" textLength="50" lengthAdjust="spacingAndGlyphs">Refugees</text>
<text x="514" y="107" font-size="15" fill="#7f7f7f" text-anchor="middle" textLength="44.2" lengthAdjust="spacingAndGlyphs">15,160</text>
<text x="514" y="122.9" font-size="11.6" fill="#1b6db3" font-weight="bold" text-anchor="middle" textLength="92.5" lengthAdjust="spacingAndGlyphs">Asylum Seekers*</text>
<text x="665" y="107" font-size="15" fill="#7f7f7f" text-anchor="middle" textLength="36" lengthAdjust="spacingAndGlyphs">6,524</text>
<text x="665" y="122.9" font-size="11.6" fill="#1b6db3" font-weight="bold" text-anchor="middle" textLength="90.5" lengthAdjust="spacingAndGlyphs">Other of Concern</text>
</g>
<g id="bars">
<text x="36.2" y="186.3" font-size="12.2" fill="#5b5b5b" textLength="125" lengthAdjust="spacingAndGlyphs">Top Refugee Population</text>
<rect x="74.6" y="203" width="0.8" height="125" fill="#e3e3e3"/>
<rect x="75" y="203.3" width="199.80" height="19.6" fill="#0072bc"/>
<text x="71.8" y="216.0" font-size="8.2" fill="#6e6e6e" text-anchor="end" textLength="35.5" lengthAdjust="spacingAndGlyphs">DR Congo</text>
<text x="272" y="216.0" font-size="8.2" fill="#fff" text-anchor="end" textLength="23.5" lengthAdjust="spacingAndGlyphs">64,265</text>
<rect x="75" y="229.5" width="157.51" height="19.6" fill="#0072bc"/>
<text x="71.8" y="242.2" font-size="8.2" fill="#6e6e6e" text-anchor="end" textLength="28.5" lengthAdjust="spacingAndGlyphs">Burundi</text>
<text x="235.5" y="242.2" font-size="8.2" fill="#6e6e6e" textLength="22.5" lengthAdjust="spacingAndGlyphs">50,661</text>
<rect x="75" y="255.7" width="1.46" height="19.6" fill="#0072bc"/>
<text x="71.8" y="268.4" font-size="8.2" fill="#6e6e6e" text-anchor="end" textLength="22.5" lengthAdjust="spacingAndGlyphs">Sudan</text>
<text x="78" y="268.4" font-size="8.2" fill="#6e6e6e">470</text>
<rect x="75" y="281.9" width="0.59" height="19.6" fill="#0072bc"/>
<text x="71.8" y="294.6" font-size="8.2" fill="#6e6e6e" text-anchor="end" textLength="25.5" lengthAdjust="spacingAndGlyphs">Eritrea</text>
<text x="78" y="294.6" font-size="8.2" fill="#6e6e6e">191</text>
<rect x="75" y="308.1" width="0.50" height="19.6" fill="#0072bc"/>
<text x="71.8" y="320.8" font-size="8.2" fill="#6e6e6e" text-anchor="end" textLength="29" lengthAdjust="spacingAndGlyphs">Ethiopia</text>
<text x="78" y="320.8" font-size="8.2" fill="#6e6e6e">87</text>
<text x="33.8" y="357.8" font-size="12.2" fill="#5b5b5b" textLength="163" lengthAdjust="spacingAndGlyphs">Top Asylum Seeker Population</text>
<rect x="74.6" y="374" width="0.8" height="126" fill="#e3e3e3"/>
<rect x="75" y="374.2" width="136.80" height="19.8" fill="#999999"/>
<text x="210" y="387.0" font-size="8.2" fill="#fff" text-anchor="end" textLength="23.5" lengthAdjust="spacingAndGlyphs">15,083</text>
<text x="71.8" y="387.0" font-size="8.2" fill="#6e6e6e" text-anchor="end" textLength="35.5" lengthAdjust="spacingAndGlyphs">DR Congo</text>
<text x="78" y="413.2" font-size="8.2" fill="#6e6e6e">25</text>
<text x="71.8" y="413.2" font-size="8.2" fill="#6e6e6e" text-anchor="end" textLength="28.5" lengthAdjust="spacingAndGlyphs">Burundi</text>
<text x="78" y="439.4" font-size="8.2" fill="#6e6e6e">25</text>
<text x="71.8" y="439.4" font-size="8.2" fill="#6e6e6e" text-anchor="end" textLength="22.5" lengthAdjust="spacingAndGlyphs">Sudan</text>
<text x="78" y="465.6" font-size="8.2" fill="#6e6e6e">8</text>
<text x="71.8" y="465.6" font-size="8.2" fill="#6e6e6e" text-anchor="end" textLength="25.5" lengthAdjust="spacingAndGlyphs">Eritrea</text>
<text x="78" y="491.8" font-size="8.2" fill="#6e6e6e">7</text>
<text x="71.8" y="491.8" font-size="8.2" fill="#6e6e6e" text-anchor="end" textLength="38.5" lengthAdjust="spacingAndGlyphs">Cameroon</text>
</g>
<g id="legend">
<rect x="37.5" y="526" width="130" height="0.8" fill="#e6e6e6"/>
<circle cx="45.75" cy="542" r="6" fill="#17344f"/>
<g transform="translate(45.75,542) scale(0.75)"><path d="M-5.5,4.4 L-5.5,-1.4 L-0.9,-6 L-0.9,-3.6 L-2.9,-0.6 L-2.9,4.4 Z" fill="#e8f1fa"/><path d="M5.5,4.4 L5.5,-1.4 L0.9,-6 L0.9,-3.6 L2.9,-0.6 L2.9,4.4 Z" fill="#e8f1fa"/><path d="M-1.3,5.2 L-1.5,-0.6 Q-1.3,-3 0,-3 Q1.3,-3 1.5,-0.6 L1.3,5.2 Z" fill="#fff"/><path d="M-3.6,-2.6 L0,-6.2 L3.6,-2.6 L1.6,-3.2 L0,-4.6 L-1.6,-3.2 Z" fill="#3c6ca6"/></g>
<circle cx="45.75" cy="557.6" r="6.1" fill="#0072bc"/>
<circle cx="45.75" cy="557.6" r="2.562" fill="#fff"/>
<circle cx="45.75" cy="573.3" r="6.1" fill="#0072bc"/>
<rect x="43.188" y="570.7379999999999" width="5.124" height="5.124" rx="0.7686" fill="#fff"/>
<circle cx="45.75" cy="589.2" r="4.588" fill="#fff" stroke="#858585" stroke-width="3.224"/>
<g transform="translate(39.8,598.4) scale(0.64)" fill="#c8213f"><path d="M11.7,0 L18.5,5.3 L18.5,11.7 L14.8,11.7 L7.4,6.4 L4.6,5.9 Z"/><path d="M0,20 L0,13 L7,7.9 L14.2,13 L14.2,20 L9.3,20 L7.1,14.2 L4.9,20 Z"/></g>
<g transform="translate(39.9,615.0) scale(0.6)" fill="none" stroke="#858585" stroke-width="1.15" stroke-linecap="round" stroke-linejoin="round"><path d="M0.6,8.2 L10,0.6 L19.4,8.2"/><path d="M3.4,7 L3.4,17.4 M16.6,7 L16.6,17.4"/><circle cx="10" cy="5.6" r="1.2" fill="#858585" stroke="none"/><path d="M7.6,8 L12.4,8 L12.4,12.6 L11.4,12.6 L11.4,17.4 L10.3,17.4 L10.3,13 L9.7,13 L9.7,17.4 L8.6,17.4 L8.6,12.6 L7.6,12.6 Z" fill="#858585" stroke="none"/></g>
<g transform="translate(42.8,630.6) scale(0.64)" fill="#c8213f"><circle cx="4.7" cy="1.35" r="1.35"/><path d="M2.8,3.4 L6.6,3.4 Q8.5,3.4 8.8,5.2 L9.4,9.2 L8.4,9.5 L7.4,5.8 L6.9,5.8 L6.9,19.6 L4.9,19.6 L4.9,11.6 L4.5,11.6 L4.5,19.6 L2.5,19.6 L2.5,5.8 L2,5.8 L1,9.5 L0,9.2 L0.6,5.2 Q0.9,3.4 2.8,3.4 Z"/></g>
<text x="59.5" y="544.6" font-size="7.2" fill="#3a3a3a" font-weight="bold" textLength="65" lengthAdjust="spacingAndGlyphs">UNHCR Branch Office</text>
<text x="59.5" y="560.2" font-size="7.2" fill="#3a3a3a" font-weight="bold" textLength="54.5" lengthAdjust="spacingAndGlyphs">UNHCR Sub Office</text>
<text x="59.5" y="575.9" font-size="7.2" fill="#3a3a3a" font-weight="bold" textLength="58" lengthAdjust="spacingAndGlyphs">UNHCR Field Office</text>
<text x="59.5" y="591.8" font-size="7.2" fill="#3a3a3a" font-weight="bold" textLength="53.5" lengthAdjust="spacingAndGlyphs">UNHCR Field Unit</text>
<text x="60.2" y="608.0" font-size="7.2" fill="#3a3a3a" font-weight="bold" textLength="45" lengthAdjust="spacingAndGlyphs">Refugee Camp</text>
<text x="59.5" y="623.8" font-size="7.2" fill="#3a3a3a" font-weight="bold" textLength="47.5" lengthAdjust="spacingAndGlyphs">Refugee Center</text>
<text x="59.5" y="639.6" font-size="7.2" fill="#3a3a3a" font-weight="bold" textLength="45.5" lengthAdjust="spacingAndGlyphs">Urban Refugee</text>
<text x="37.5" y="659.2" font-size="8.6" fill="#4a4a4a" font-weight="bold" textLength="36" lengthAdjust="spacingAndGlyphs">Disclaimer:</text>
<text x="75.3" y="659.2" font-size="8.6" fill="#8d8d8d" textLength="137.5" lengthAdjust="spacingAndGlyphs">The boundaries and names shown, and the</text>
<text x="37.5" y="669.6" font-size="8.6" fill="#8d8d8d" textLength="162.5" lengthAdjust="spacingAndGlyphs">designations used on the map do not imply official</text>
<text x="37.5" y="680" font-size="8.6" fill="#8d8d8d" textLength="162.5" lengthAdjust="spacingAndGlyphs">endorsement or acceptance by the United Nations.</text>
</g>
<g id="gender">
<g fill="#858585"><circle cx="803.2" cy="93.4" r="3.35"/><path d="M800.4,98 L806.4,98 Q809.4,98 810.2,100.2 L812.6,111.8 L810.2,112.9 L807.7,104 L807.7,128 L804,128 L804,113 L802.8,113 L802.8,128 L799.1,128 L799.1,104 L796.6,112.9 L794,111.8 L796.6,100.2 Q797.4,98 800.4,98 Z"/></g>
<g fill="#0072bc"><circle cx="910.6" cy="93.4" r="3.3"/><path d="M908,98 L913.4,98 Q916,98 916.8,100.2 L919.9,111.6 L917.8,112.8 L914.9,103.4 L917.2,116.2 L915.2,116.2 L915.2,128 L911.9,128 L911.9,116.2 L909.9,116.2 L909.9,128 L906.5,128 L906.5,116.2 L904.5,116.2 L906.8,103.4 L903.8,112.8 L901.6,111.6 L904.8,100.2 Q905.6,98 908,98 Z"/></g>
<text x="822.1" y="97.7" font-size="10" fill="#1b6db3" font-weight="bold" textLength="21" lengthAdjust="spacingAndGlyphs">Male</text>
<rect x="821.3" y="101.2" width="0.9" height="28.7" fill="#c4c4c4"/>
<text x="826" y="112.7" font-size="11" fill="#6a6a6a" textLength="21.9" lengthAdjust="spacingAndGlyphs">49%</text>
<text x="826" y="127.9" font-size="11" fill="#6a6a6a" textLength="33.8" lengthAdjust="spacingAndGlyphs">67,628</text>
<text x="929.1" y="97.7" font-size="10" fill="#1b6db3" font-weight="bold" textLength="33" lengthAdjust="spacingAndGlyphs">Female</text>
<rect x="928.7" y="101.2" width="0.9" height="28.7" fill="#c4c4c4"/>
<text x="933.4" y="112.7" font-size="11" fill="#6a6a6a" textLength="21.9" lengthAdjust="spacingAndGlyphs">51%</text>
<text x="933.4" y="127.9" font-size="11" fill="#6a6a6a" textLength="34.2" lengthAdjust="spacingAndGlyphs">69,975</text>
<rect x="790" y="141" width="178" height="0.8" fill="#f5f5f5"/>
</g>
<g id="pyramid">
<rect x="891.67" y="150.80" width="7.63" height="24.8" fill="#999999"/>
<rect x="899.30" y="150.80" width="9.09" height="24.8" fill="#0072bc"/>
<text x="765" y="167.0" font-size="8" fill="#7a7a7a" textLength="36.2" lengthAdjust="spacingAndGlyphs">60+ Years</text>
<text x="889.6" y="166.0" font-size="7.4" fill="#8a8a8a" text-anchor="end" textLength="16.5" lengthAdjust="spacingAndGlyphs">2.1%</text>
<text x="909.6" y="166.0" font-size="7.4" fill="#8a8a8a" textLength="16.8" lengthAdjust="spacingAndGlyphs">2.5%</text>
<rect x="816.42" y="177.02" width="82.88" height="24.8" fill="#999999"/>
<rect x="899.30" y="177.02" width="88.69" height="24.8" fill="#0072bc"/>
<text x="765" y="193.2" font-size="8" fill="#7a7a7a" textLength="43" lengthAdjust="spacingAndGlyphs">18-59 Years</text>
<text x="857.9" y="192.2" font-size="7.3" fill="#fff" font-weight="bold" text-anchor="middle" textLength="20.4" lengthAdjust="spacingAndGlyphs">22.8%</text>
<text x="943.6" y="192.2" font-size="7.3" fill="#fff" font-weight="bold" text-anchor="middle" textLength="20.4" lengthAdjust="spacingAndGlyphs">24.4%</text>
<rect x="873.13" y="203.24" width="26.17" height="24.8" fill="#999999"/>
<rect x="899.30" y="203.24" width="26.17" height="24.8" fill="#0072bc"/>
<text x="765" y="219.4" font-size="8" fill="#7a7a7a" textLength="43" lengthAdjust="spacingAndGlyphs">12-17 Years</text>
<text x="886.2" y="218.4" font-size="7.3" fill="#fff" font-weight="bold" text-anchor="middle" textLength="17" lengthAdjust="spacingAndGlyphs">7.2%</text>
<text x="912.4" y="218.4" font-size="7.3" fill="#fff" font-weight="bold" text-anchor="middle" textLength="17" lengthAdjust="spacingAndGlyphs">7.2%</text>
<rect x="862.95" y="229.46" width="36.35" height="24.8" fill="#999999"/>
<rect x="899.30" y="229.46" width="35.62" height="24.8" fill="#0072bc"/>
<text x="765" y="245.7" font-size="8" fill="#7a7a7a" textLength="43" lengthAdjust="spacingAndGlyphs">05-11 Years</text>
<text x="881.1" y="244.7" font-size="7.3" fill="#fff" font-weight="bold" text-anchor="middle" textLength="20.4" lengthAdjust="spacingAndGlyphs">10.0%</text>
<text x="917.1" y="244.7" font-size="7.3" fill="#fff" font-weight="bold" text-anchor="middle" textLength="17" lengthAdjust="spacingAndGlyphs">9.8%</text>
<rect x="873.49" y="255.68" width="25.81" height="24.8" fill="#999999"/>
<rect x="899.30" y="255.68" width="25.45" height="24.8" fill="#0072bc"/>
<text x="765" y="271.9" font-size="8" fill="#7a7a7a" textLength="34" lengthAdjust="spacingAndGlyphs">0-4 Years</text>
<text x="886.4" y="270.9" font-size="7.3" fill="#fff" font-weight="bold" text-anchor="middle" textLength="17" lengthAdjust="spacingAndGlyphs">7.1%</text>
<text x="912.0" y="270.9" font-size="7.3" fill="#fff" font-weight="bold" text-anchor="middle" textLength="17" lengthAdjust="spacingAndGlyphs">7.0%</text>
</g>
<g id="stats">
<text x="866" y="329.9" font-size="9.3" fill="#2a7fc4" font-weight="bold" textLength="19" lengthAdjust="spacingAndGlyphs">18 &amp;</text>
<text x="866" y="341.7" font-size="9.3" fill="#2a7fc4" font-weight="bold" textLength="28" lengthAdjust="spacingAndGlyphs">Above</text>
<rect x="865.2" y="345.5" width="0.9" height="28.9" fill="#b9b9b9"/>
<text x="870.2" y="356.4" font-size="11.6" fill="#333333" textLength="21.9" lengthAdjust="spacingAndGlyphs">52%</text>
<text x="870.2" y="371.8" font-size="11.6" fill="#333333" textLength="34" lengthAdjust="spacingAndGlyphs">71,285</text>
<text x="937.3" y="329.9" font-size="9.3" fill="#2a7fc4" font-weight="bold" textLength="43.5" lengthAdjust="spacingAndGlyphs">Women &amp;</text>
<text x="937.3" y="341.7" font-size="9.3" fill="#2a7fc4" font-weight="bold" textLength="38.5" lengthAdjust="spacingAndGlyphs">Children</text>
<rect x="936.5" y="345.5" width="0.9" height="28.9" fill="#b9b9b9"/>
<text x="941.5" y="356.4" font-size="11.6" fill="#333333" textLength="21.9" lengthAdjust="spacingAndGlyphs">75%</text>
<text x="941.5" y="371.8" font-size="11.6" fill="#333333" textLength="39.8" lengthAdjust="spacingAndGlyphs">103,323</text>
<text x="866" y="409.9" font-size="9.3" fill="#2a7fc4" font-weight="bold" textLength="32.2" lengthAdjust="spacingAndGlyphs">Elderly</text>
<rect x="865.2" y="413.8" width="0.9" height="28.6" fill="#b9b9b9"/>
<text x="870.2" y="424.2" font-size="11.6" fill="#333333" textLength="15.5" lengthAdjust="spacingAndGlyphs">5%</text>
<text x="870.2" y="440.7" font-size="11.6" fill="#333333" textLength="26.9" lengthAdjust="spacingAndGlyphs">6,361</text>
<text x="937.3" y="395.1" font-size="9.3" fill="#2a7fc4" font-weight="bold" textLength="24.5" lengthAdjust="spacingAndGlyphs">Youth</text>
<text x="937.3" y="406.9" font-size="9.3" fill="#2a7fc4" font-weight="bold" textLength="33.5" lengthAdjust="spacingAndGlyphs">(15-24)</text>
<rect x="936.5" y="411.2" width="0.9" height="28.3" fill="#b9b9b9"/>
<text x="941.5" y="421.2" font-size="11.6" fill="#333333" textLength="21.9" lengthAdjust="spacingAndGlyphs">21%</text>
<text x="941.5" y="437.2" font-size="11.6" fill="#333333" textLength="34" lengthAdjust="spacingAndGlyphs">29,002</text>
<text x="866" y="472.2" font-size="9.3" fill="#2a7fc4" font-weight="bold" textLength="40.6" lengthAdjust="spacingAndGlyphs">Under 18</text>
<rect x="865.2" y="476.2" width="0.9" height="28.5" fill="#b9b9b9"/>
<text x="870.2" y="486.9" font-size="11.6" fill="#333333" textLength="21.9" lengthAdjust="spacingAndGlyphs">48%</text>
<text x="870.2" y="502.5" font-size="11.6" fill="#333333" textLength="34" lengthAdjust="spacingAndGlyphs">66,318</text>
<text x="937.3" y="471" font-size="9.3" fill="#2a7fc4" font-weight="bold" textLength="41" lengthAdjust="spacingAndGlyphs">Under 12</text>
<rect x="936.5" y="474.8" width="0.9" height="28.7" fill="#b9b9b9"/>
<text x="941.5" y="485.3" font-size="11.6" fill="#333333" textLength="21.9" lengthAdjust="spacingAndGlyphs">34%</text>
<text x="941.5" y="501.2" font-size="11.6" fill="#333333" textLength="34" lengthAdjust="spacingAndGlyphs">46,476</text>
</g>
<g id="donut">
<circle cx="890.4" cy="622.2" r="41.0" fill="none" stroke="#0072bc" stroke-width="20"/>
<path d="M934.28,648.77 A51.3,51.3 0 0 1 913.21,668.15 L904.05,649.70 A30.7,30.7 0 0 0 916.66,638.10 Z" fill="#999999"/>
<text x="845.5" y="578.2" font-size="10" fill="#8a8a8a" text-anchor="end" textLength="41.8" lengthAdjust="spacingAndGlyphs" letter-spacing="0.3">Camps %</text>
<text x="845.5" y="589.6" font-size="10" fill="#8a8a8a" text-anchor="end" textLength="18.5" lengthAdjust="spacingAndGlyphs">91%</text>
<text x="934.7" y="661.3" font-size="10" fill="#8a8a8a" textLength="38.5" lengthAdjust="spacingAndGlyphs">Urban %</text>
<text x="934.7" y="672.4" font-size="10" fill="#8a8a8a" textLength="13.2" lengthAdjust="spacingAndGlyphs">9%</text>
<g fill="#2f86d8"><rect x="800.9" y="603.6" width="19.7" height="2.3"/><path d="M805.3,602.2 L805.7,594.8 L809.4,591.6 L812.7,590.2 L816,591.6 L819.7,594.8 L820.2,602.2 Z"/><path d="M803,586.4 L804,586.4 L804,591.2 L805.6,589.6 L806.3,590.3 L803.5,593.2 L800.7,590.3 L801.4,589.6 L803,591.2 Z" fill="#2c72bd"/></g>
<rect x="813.4" y="599.4" width="1.7" height="2.8" fill="#dcecfb"/>
<path d="M806.4,597.6 L819.2,597.6" stroke="#5aa0e4" stroke-width="0.6"/>
<g fill="#3b86d2"><rect x="951.7" y="640.4" width="18.6" height="1.2"/><rect x="957" y="624.4" width="5.6" height="16.2"/><rect x="964.6" y="629.6" width="5.6" height="11"/><path d="M964.6,629.8 L967.1,625.6 L967.1,623.6 L967.7,623.6 L967.7,625.6 L970.2,629.8 Z"/><circle cx="953.8" cy="636.3" r="1.8"/><rect x="953.4" y="637" width="0.8" height="3.6"/></g>
<g fill="#e3effb"><rect x="958.2" y="626.2" width="3.2" height="1.3"/><rect x="958.2" y="629.2" width="3.2" height="1.3"/><rect x="958.2" y="632.2" width="3.2" height="1.3"/><rect x="958.2" y="635.2" width="3.2" height="1.3"/><rect x="959" y="637.8" width="1.6" height="2.6"/><rect x="965.6" y="631.4" width="1.2" height="7.6"/><rect x="968" y="631.4" width="1.2" height="7.6"/></g>
</g>
<g id="footer">
<text x="433.5" y="683.8" font-size="7.4" fill="#5f5f5f" textLength="266" lengthAdjust="spacingAndGlyphs">* Among the 15,160 asylum seekers, the registration of 14 individuals is still pending.</text>
<text x="54.8" y="701.8" font-size="6.6" fill="#333" font-weight="bold" textLength="29.2" lengthAdjust="spacingAndGlyphs">CONTACT:</text>
<text x="86.4" y="701.8" font-size="6.6" fill="#2c4f9e" textLength="62.4" lengthAdjust="spacingAndGlyphs" text-decoration="underline">rwakireg@unhcr.org</text>
<text x="809" y="701.8" font-size="6.6" fill="#333" font-weight="bold" textLength="43" lengthAdjust="spacingAndGlyphs">For more info:</text>
<text x="854" y="701.8" font-size="6.6" fill="#2c4f9e" textLength="117.8" lengthAdjust="spacingAndGlyphs" text-decoration="underline">https://data2.unhcr.org/en/country/rwa</text>
</g>
</svg></body></html>
